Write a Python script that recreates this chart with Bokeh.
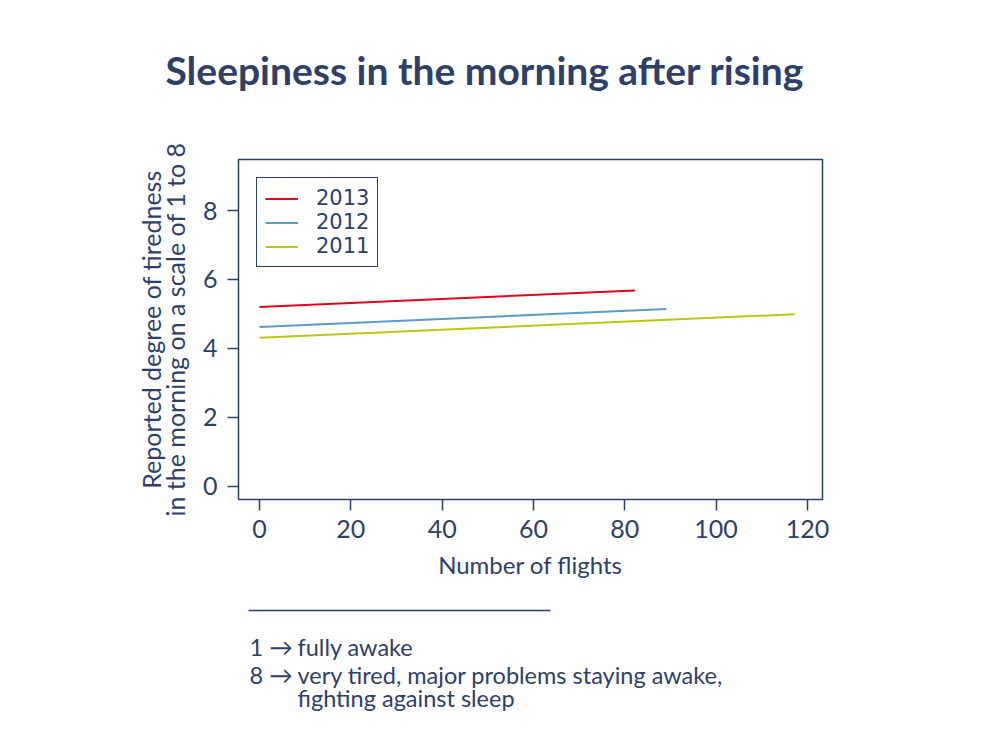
from bokeh.plotting import figure
from bokeh.models import Range1d, Legend, LegendItem, FixedTicker, Title
from bokeh.layouts import column
from bokeh.core.properties import value
from bokeh.embed import file_html
from bokeh.resources import INLINE

# ---- data ----
series_names = ["2013", "2012", "2011"]
flights_2013 = [0, 82.2]
tired_2013 = [5.20, 5.68]
flights_2012 = [0, 89.1]
tired_2012 = [4.62, 5.14]
flights_2011 = [0, 117.2]
tired_2011 = [4.31, 4.99]
x_ticks = [0, 20, 40, 60, 80, 100, 120]
y_ticks = [0, 2, 4, 6, 8]

title_text = "Sleepiness in the morning after rising"
x_label = "Number of flights"
y_label = "Reported degree of tiredness\nin the morning on a scale of 1 to 8"
note_keys = ["1 \u2192", "8 \u2192"]
note_texts = ["fully awake", "very tired, major problems staying awake,", "fighting against sleep"]

NAVY = "#2f4068"
RED = "#e3051b"
BLUE = "#5a9cc4"
GREEN = "#b7c914"
FONT = "Lato"

W = 980
H1 = 600
p = figure(width=W, height=H1, output_backend="svg", toolbar_location=None,
           x_range=Range1d(-4.6, 123.3), y_range=Range1d(-0.386, 9.48),
           min_border_left=238, min_border_right=W - 822,
           min_border_top=159, min_border_bottom=H1 - 499)
p.background_fill_color = "white"
p.border_fill_color = "white"
p.outline_line_color = NAVY
p.outline_line_width = 1.5
p.grid.visible = False

for ax, ticks in ((p.xaxis[0], x_ticks), (p.yaxis[0], y_ticks)):
    ax.ticker = FixedTicker(ticks=ticks)
    ax.minor_tick_line_color = None
    ax.axis_line_color = None
    ax.major_tick_line_color = NAVY
    ax.major_tick_line_width = 1.5
    ax.major_tick_in = 0
    ax.major_tick_out = 11
    ax.major_label_text_font = FONT
    ax.major_label_text_font_size = "25px"
    ax.major_label_text_color = NAVY
    ax.axis_label_text_font = FONT
    ax.axis_label_text_font_style = "normal"
    ax.axis_label_text_color = NAVY
p.xaxis.major_label_standoff = 9
p.yaxis.major_label_standoff = 10
p.xaxis.axis_label = x_label
p.xaxis.axis_label_text_font_size = "24px"
p.xaxis.axis_label_standoff = 9
p.yaxis.axis_label = y_label
p.yaxis.axis_label_text_font_size = "25px"
p.yaxis.axis_label_standoff = 10
p.yaxis.axis_label_text_line_height = 0.8

# real title (outermost) and a blank spacer between it and the frame
p.title = Title(text=title_text, align="left", offset=-73, standoff=20,
                vertical_align="top",
                text_font=FONT, text_font_size="39px", text_font_style="bold",
                text_color=NAVY)
p.add_layout(Title(text=" ", text_font_size="1px", standoff=52), "above")

r13 = p.line(flights_2013, tired_2013, line_color=RED, line_width=2)
r12 = p.line(flights_2012, tired_2012, line_color=BLUE, line_width=2)
r11 = p.line(flights_2011, tired_2011, line_color=GREEN, line_width=2)

legend = Legend(items=[LegendItem(label=series_names[0], renderers=[r13]),
                       LegendItem(label=series_names[1], renderers=[r12]),
                       LegendItem(label=series_names[2], renderers=[r11])],
                location="top_left", margin=18, padding=8, spacing=0,
                label_height=21, glyph_height=21, glyph_width=33,
                label_standoff=18, label_text_font="DejaVu Sans",
                label_text_font_size="21px", label_text_color=NAVY,
                border_line_color=NAVY, border_line_width=1.5,
                border_line_alpha=1.0, background_fill_alpha=1.0)
p.add_layout(legend)

# ---- footnote panel (frame aligned with the chart's frame; units = page pixels) ----
H2 = 130
n = figure(width=W, height=H2, output_backend="svg", toolbar_location=None,
           x_range=Range1d(238, 822), y_range=Range1d(H1 + H2, H1),
           min_border_left=238, min_border_right=W - 822,
           min_border_top=0, min_border_bottom=0,
           x_axis_type=None, y_axis_type=None)
n.outline_line_color = None
n.grid.visible = False
n.background_fill_color = "white"
n.border_fill_color = "white"
n.segment(x0=[248], y0=[610], x1=[550], y1=[610], line_color=NAVY, line_width=1.5)
n.text(x=[249, 249], y=[646, 674], text=note_keys, text_font=value(FONT),
       text_font_size="23.5px", text_color=NAVY, text_baseline="alphabetic")
n.text(x=[297, 297, 297], y=[646, 674, 697], text=note_texts, text_font=value(FONT),
       text_font_size="23.5px", text_color=NAVY, text_baseline="alphabetic")

layout = column(p, n, spacing=0)
open("out.html", "w").write(file_html(layout, INLINE))
